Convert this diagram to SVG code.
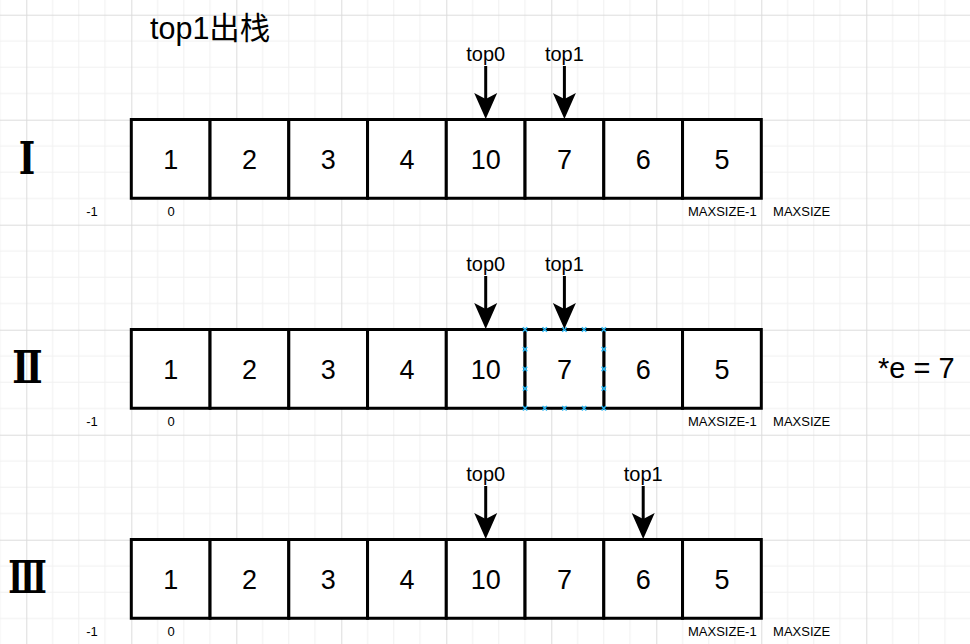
<svg xmlns="http://www.w3.org/2000/svg" xmlns:xlink="http://www.w3.org/1999/xlink" width="970" height="644" viewBox="0 0 970 644">
<style>
.cell{fill:#fff;stroke:#000;stroke-width:3}
.num{font-family:"Liberation Sans",Arial,sans-serif;font-size:27px;text-anchor:middle;fill:#000}
.lbl{font-family:"Liberation Sans",Arial,sans-serif;font-size:20px;text-anchor:middle;fill:#000}
.idx{font-family:"Liberation Sans",Arial,sans-serif;font-size:13px;text-anchor:middle;fill:#000}
.roman{font-family:"DejaVu Serif","Noto Sans CJK SC",serif;font-size:44px;font-weight:bold;text-anchor:middle;fill:#000}
.conn{stroke:#000;stroke-width:3;fill:none;marker-end:url(#arr)}
.xm{stroke:#29b6f2;stroke-width:1.5;fill:none}
</style>
<defs>
<pattern id="grid" patternUnits="userSpaceOnUse" x="26.3" y="14.7" width="105" height="105">
<path d="M26.25 0V105M52.5 0V105M78.75 0V105M0 26.25H105M0 52.5H105M0 78.75H105" stroke="#f0f0f0" stroke-width="1" fill="none"/>
<path d="M0.5 0V105M0 0.5H105" stroke="#dcdcdc" stroke-width="1" fill="none"/>
</pattern>
<marker id="arr" markerUnits="userSpaceOnUse" viewBox="-27 -12 28 24" markerWidth="28" markerHeight="24" refX="-19" refY="0" orient="auto">
<path d="M0,0 L-26,-11.5 L-20,0 L-26,11.5 Z" fill="#000"/>
</marker>
<path id="xmark" class="xm" d="M-2.2,-2.2L2.2,2.2M-2.2,2.2L2.2,-2.2"/>
</defs>
<rect width="970" height="644" fill="#fff"/>
<rect width="970" height="644" fill="url(#grid)"/>

<text x="150" y="38.5" style="font-family:'Liberation Sans','Noto Sans CJK SC',sans-serif;font-size:30.5px;fill:#000">top1出栈</text>

<g id="roman-labels">
<text class="roman" transform="translate(27,174) scale(0.8,1)">Ⅰ</text>
<text class="roman" transform="translate(27.5,383) scale(0.82,1)">Ⅱ</text>
<text class="roman" transform="translate(27.5,593) scale(0.72,1)">Ⅲ</text>
</g>

<g id="row1">
<g id="r1c0"><rect class="cell" x="131.3" y="119.5" width="78.75" height="78.75"/><text class="num" x="170.7" y="168.5">1</text></g>
<g id="r1c1"><rect class="cell" x="210.05" y="119.5" width="78.75" height="78.75"/><text class="num" x="249.4" y="168.5">2</text></g>
<g id="r1c2"><rect class="cell" x="288.8" y="119.5" width="78.75" height="78.75"/><text class="num" x="328.2" y="168.5">3</text></g>
<g id="r1c3"><rect class="cell" x="367.55" y="119.5" width="78.75" height="78.75"/><text class="num" x="406.9" y="168.5">4</text></g>
<g id="r1c4"><rect class="cell" x="446.3" y="119.5" width="78.75" height="78.75"/><text class="num" x="485.7" y="168.5">10</text></g>
<g id="r1c5"><rect class="cell" x="525.05" y="119.5" width="78.75" height="78.75"/><text class="num" x="564.4" y="168.5">7</text></g>
<g id="r1c6"><rect class="cell" x="603.8" y="119.5" width="78.75" height="78.75"/><text class="num" x="643.2" y="168.5">6</text></g>
<g id="r1c7"><rect class="cell" x="682.55" y="119.5" width="78.75" height="78.75"/><text class="num" x="721.9" y="168.5">5</text></g>
<g id="r1-idx"><text class="idx" x="92" y="216">-1</text><text class="idx" x="171" y="216">0</text><text class="idx" x="722.3" y="216">MAXSIZE-1</text><text class="idx" x="801.6" y="216">MAXSIZE</text></g>
<g id="r1-top0"><text class="lbl" x="485.7" y="60.5">top0</text></g>
<g id="r1-top1"><text class="lbl" x="564.4" y="60.5">top1</text></g>
</g>

<g id="row2">
<g id="r2c0"><rect class="cell" x="131.3" y="329.5" width="78.75" height="78.75"/><text class="num" x="170.7" y="378.5">1</text></g>
<g id="r2c1"><rect class="cell" x="210.05" y="329.5" width="78.75" height="78.75"/><text class="num" x="249.4" y="378.5">2</text></g>
<g id="r2c2"><rect class="cell" x="288.8" y="329.5" width="78.75" height="78.75"/><text class="num" x="328.2" y="378.5">3</text></g>
<g id="r2c3"><rect class="cell" x="367.55" y="329.5" width="78.75" height="78.75"/><text class="num" x="406.9" y="378.5">4</text></g>
<g id="r2c4"><rect class="cell" x="446.3" y="329.5" width="78.75" height="78.75"/><text class="num" x="485.7" y="378.5">10</text></g>
<g id="r2c6"><rect class="cell" x="603.8" y="329.5" width="78.75" height="78.75"/><text class="num" x="643.2" y="378.5">6</text></g>
<g id="r2c7"><rect class="cell" x="682.55" y="329.5" width="78.75" height="78.75"/><text class="num" x="721.9" y="378.5">5</text></g>
<g id="r2c5"><rect class="cell" x="525.05" y="329.5" width="78.75" height="78.75"/><text class="num" x="564.4" y="378.5">7</text>
<use xlink:href="#xmark" x="525.05" y="329.5"/><use xlink:href="#xmark" x="544.7" y="329.5"/><use xlink:href="#xmark" x="564.4" y="329.5"/><use xlink:href="#xmark" x="584.1" y="329.5"/><use xlink:href="#xmark" x="603.8" y="329.5"/>
<use xlink:href="#xmark" x="525.05" y="408.25"/><use xlink:href="#xmark" x="544.7" y="408.25"/><use xlink:href="#xmark" x="564.4" y="408.25"/><use xlink:href="#xmark" x="584.1" y="408.25"/><use xlink:href="#xmark" x="603.8" y="408.25"/>
<use xlink:href="#xmark" x="525.05" y="349.2"/><use xlink:href="#xmark" x="525.05" y="368.9"/><use xlink:href="#xmark" x="525.05" y="388.6"/>
<use xlink:href="#xmark" x="603.8" y="349.2"/><use xlink:href="#xmark" x="603.8" y="368.9"/><use xlink:href="#xmark" x="603.8" y="388.6"/>
</g>
<g id="r2-idx"><text class="idx" x="92" y="426">-1</text><text class="idx" x="171" y="426">0</text><text class="idx" x="722.3" y="426">MAXSIZE-1</text><text class="idx" x="801.6" y="426">MAXSIZE</text></g>
<g id="r2-top0"><text class="lbl" x="485.7" y="270.5">top0</text></g>
<g id="r2-top1"><text class="lbl" x="564.4" y="270.5">top1</text></g>
<g id="r2-e"><text x="878" y="378" style="font-family:'Liberation Sans',Arial,sans-serif;font-size:29px;fill:#000">*e = 7</text></g>
</g>

<g id="row3">
<g id="r3c0"><rect class="cell" x="131.3" y="539.5" width="78.75" height="78.75"/><text class="num" x="170.7" y="588.5">1</text></g>
<g id="r3c1"><rect class="cell" x="210.05" y="539.5" width="78.75" height="78.75"/><text class="num" x="249.4" y="588.5">2</text></g>
<g id="r3c2"><rect class="cell" x="288.8" y="539.5" width="78.75" height="78.75"/><text class="num" x="328.2" y="588.5">3</text></g>
<g id="r3c3"><rect class="cell" x="367.55" y="539.5" width="78.75" height="78.75"/><text class="num" x="406.9" y="588.5">4</text></g>
<g id="r3c4"><rect class="cell" x="446.3" y="539.5" width="78.75" height="78.75"/><text class="num" x="485.7" y="588.5">10</text></g>
<g id="r3c5"><rect class="cell" x="525.05" y="539.5" width="78.75" height="78.75"/><text class="num" x="564.4" y="588.5">7</text></g>
<g id="r3c6"><rect class="cell" x="603.8" y="539.5" width="78.75" height="78.75"/><text class="num" x="643.2" y="588.5">6</text></g>
<g id="r3c7"><rect class="cell" x="682.55" y="539.5" width="78.75" height="78.75"/><text class="num" x="721.9" y="588.5">5</text></g>
<g id="r3-idx"><text class="idx" x="92" y="636">-1</text><text class="idx" x="171" y="636">0</text><text class="idx" x="722.3" y="636">MAXSIZE-1</text><text class="idx" x="801.6" y="636">MAXSIZE</text></g>
<g id="r3-top0"><text class="lbl" x="485.7" y="480.5">top0</text></g>
<g id="r3-top1"><text class="lbl" x="643.2" y="480.5">top1</text></g>
</g>

<g id="connectors">
<path class="conn" d="M485.7,66V100"/>
<path class="conn" d="M564.4,66V100"/>
<path class="conn" d="M485.7,276V310"/>
<path class="conn" d="M564.4,276V310"/>
<path class="conn" d="M485.7,486V520"/>
<path class="conn" d="M643.2,486V520"/>
</g>
</svg>
